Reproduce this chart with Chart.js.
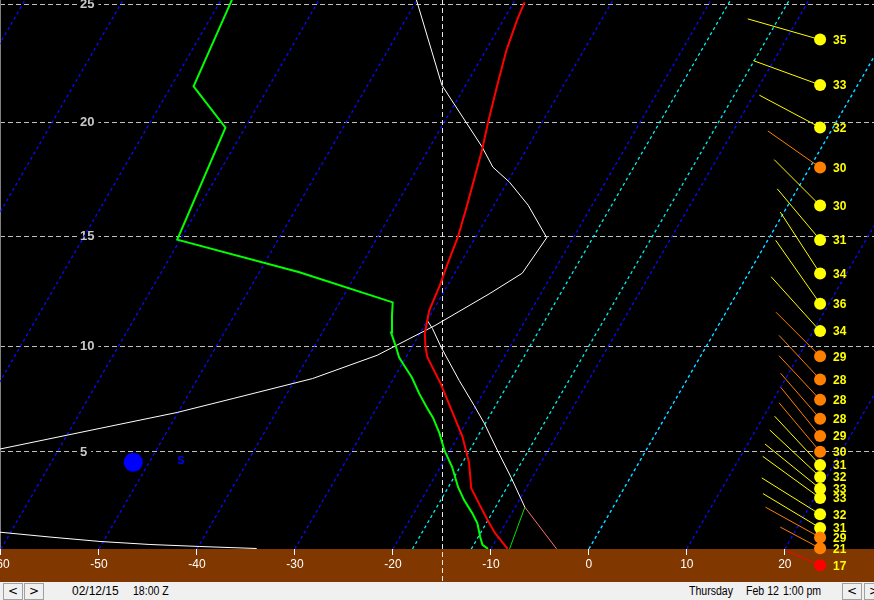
<!DOCTYPE html>
<html>
<head>
<meta charset="utf-8">
<script src="https://cdn.jsdelivr.net/npm/chart.js@4.4.1/dist/chart.umd.min.js"></script>
<style>
  html, body { margin: 0; padding: 0; background: #000; }
  #wrap { position: relative; width: 874px; height: 600px; overflow: hidden; }
  #plot { display: block; }
  #status { position: absolute; left: 0; top: 582px; width: 874px; height: 18px; background: #f0f0f0;
            font: 12px "Liberation Sans", Arial, sans-serif; color: #000; }
  #status span { position: absolute; top: 2px; line-height: 14px; white-space: pre; transform-origin: 0 50%; }
  #status span.n { transform: scaleX(0.88); }
  .btn { position: absolute; top: 1px; width: 18px; height: 15px; border: 1px solid #a0a0a0; background: #f0f0f0;
         text-align: center; line-height: 15px; font: 12px "DejaVu Sans", Arial, sans-serif; color: #000; }
</style>
</head>
<body>
<div id="wrap">
  <canvas id="plot" width="874" height="582"></canvas>
  <div id="status">
    <div class="btn" style="left:3px">&lt;</div>
    <div class="btn" style="left:24px">&gt;</div>
    <span style="left:72px">02/12/15</span>
    <span class="n" style="left:133px">18:00 Z</span>
    <span class="n" style="left:689px">Thursday</span>
    <span class="n" style="left:746px">Feb 12</span>
    <span class="n" style="left:783px">1:00 pm</span>
    <div class="btn" style="left:842px">&lt;</div>
    <div class="btn" style="left:864px">&gt;</div>
  </div>
</div>
<script>
// axis ticks
var xTicks = [-60, -50, -40, -30, -20, -10, 0, 10, 20];
var heightTicks = [5, 10, 15, 20, 25]; // thousands of feet
var refLine = -15;

// skewed isotherms, degC at the bottom of the plot
var isotherms = [-90, -80, -70, -60, -50, -40, -30, -20, -10, 0, 10, 20];
var snowIsotherms = [-18, -12, 0];

// temperature profile (kft, degC)
var tempKft = [0.25, 1.03, 1.57, 2.40, 3.24, 4.46, 5.71, 7.22, 8.25, 9.48, 9.95, 10.6, 11.65, 12.8, 13.81, 14.95, 16.32, 18.82, 20.0, 21.51, 23.07, 24.33, 25.08];
var tempC   = [-8.3, -10.5, -11.8, -13.7, -15.6, -17.3, -19.5, -22.7, -24.9, -27.8, -28.6, -29.5, -30.4, -30.8, -31.3, -31.8, -32.7, -34.5, -35.5, -36.7, -37.9, -38.6, -38.9];

// dew point profile
var dewKft = [0.25, 0.45, 0.84, 1.52, 2.01, 2.65, 3.29, 4.27, 5.09, 5.90, 6.65, 7.12, 7.78, 8.54, 9.10, 9.48, 9.95, 10.64, 11.42, 12.02, 13.39, 14.86, 19.78, 21.55, 25.17];
var dewC   = [-10.3, -11.1, -11.8, -12.9, -14.0, -15.6, -17.0, -18.8, -20.6, -22.1, -23.7, -24.9, -26.5, -28.2, -29.7, -30.7, -31.6, -33.0, -33.9, -34.6, -45.9, -60.3, -62.0, -67.7, -68.9];

// lifted parcel
var dryKft = [0.25, 2.31];
var dryC   = [-3.3, -9.0];
var mixKft = [0.25, 2.31];
var mixC   = [-8.1, -9.0];
var moistKft = [2.31, 3.78, 5.09, 6.37, 7.22, 8.40, 9.95, 10.82, 11.19];
var moistC   = [-9.0, -12.2, -15.2, -18.1, -20.2, -23.2, -27.0, -29.0, -30.0];

// white trace on the plain (unskewed) axis
var traceKft = [5.05, 5.14, 6.13, 6.89, 7.55, 8.49, 9.58, 10.96, 12.43, 13.35, 14.95, 16.40, 17.41, 18.07, 18.95, 21.60, 25.17];
var traceX   = [-61.1, -60.1, -49.9, -42.0, -36.3, -28.2, -21.6, -15.7, -10.1, -6.8, -4.3, -6.2, -8.1, -9.8, -10.9, -15.0, -17.6];
var lowKft = [1.13, 1.08, 0.84, 0.62, 0.47, 0.37, 0.27];
var lowX   = [-61.1, -60.1, -55.0, -49.9, -44.8, -39.7, -33.9];

// marker
var markKft = [4.5];
var markX = [-46.5];

// winds (kft, knots, direction from)
var windX = 23.6;
var windKft = [23.52, 21.61, 19.79, 18.05, 16.38, 14.85, 13.34, 11.96, 10.70, 9.53, 8.45, 7.49, 6.59, 5.77, 5.01, 4.37, 3.79, 3.22, 2.76, 1.96, 1.29, 0.82, 0.28, -0.57];
var windSpd = [35, 33, 32, 29.7, 30.2, 31, 34, 36, 34, 29, 28, 28, 28, 29, 29.7, 31, 32, 33, 33, 32, 31, 29, 21, 17];
var windDir = [286, 290, 298, 305, 315, 320, 327, 325, 318, 315, 317, 317, 319, 321, 320, 317, 313, 309, 306, 302, 301, 299, 298, 293];

var P_BOT = 1004.3, P_TOP = 373.3, SKEW = 32.8;

function kftToP(k) { return 1013.25 * Math.pow(1 - 6.8756e-6 * k * 1000, 5.2559); }
function skewPt(t, k) { var p = kftToP(k); return { x: t + SKEW * Math.log(P_BOT / p), y: p }; }
function skewLine(kft, temps) { return kft.map(function (k, i) { return skewPt(temps[i], k); }); }
function plainLine(kft, xs) { return kft.map(function (k, i) { return { x: xs[i], y: kftToP(k) }; }); }
function isoLine(t) {
  return [{ x: t, y: P_BOT }, { x: t + SKEW * Math.log(P_BOT / P_TOP), y: P_TOP }];
}
function windColor(s) { return s >= 30 ? '#ffff00' : (s >= 20 ? '#ff8000' : '#ff0000'); }

function lineSet(data, color, width, dash) {
  return { data: data, showLine: true, borderColor: color, borderWidth: width, borderDash: dash || [],
           pointRadius: 0, tension: 0, fill: false };
}

var datasets = [
  { data: plainLine(markKft, markX), pointRadius: 9.5, pointBackgroundColor: '#0000ff', pointBorderWidth: 0, clip: false },
  { data: windKft.map(function (k) { return { x: windX, y: kftToP(k) }; }),
    pointRadius: 6, pointHoverRadius: 30, pointBorderWidth: 0, clip: false,
    pointBackgroundColor: windSpd.map(windColor) },
  { data: windKft.map(function (k) { return { x: windX, y: kftToP(k) }; }),
    pointStyle: 'dash', clip: false, pointBorderWidth: 1,
    pointRadius: windSpd.map(function (s) { return s * 2.15; }),
    pointHoverRadius: windSpd.map(function (s) { return s * 2.15; }),
    pointRotation: windDir.map(function (d) { return d - 90; }),
    pointBorderColor: windSpd.map(windColor) },
  lineSet(skewLine(tempKft, tempC), '#ff0000', 2),
  lineSet(skewLine(dewKft, dewC), '#00ff00', 2),
  lineSet(skewLine(moistKft, moistC), '#ffffff', 1),
  lineSet(skewLine(dryKft, dryC), '#ff7070', 1),
  lineSet(skewLine(mixKft, mixC), '#00e000', 1),
  lineSet(plainLine(traceKft, traceX), '#ffffff', 1),
  lineSet(plainLine(lowKft, lowX), '#ffffff', 1)
];
snowIsotherms.forEach(function (t) { datasets.push(lineSet(isoLine(t), '#00f0f0', 1.3, [3, 3])); });
isotherms.forEach(function (t) { datasets.push(lineSet(isoLine(t), '#0a0aff', 1.3, [3, 3])); });

var framePlugin = {
  id: 'frame',
  beforeDraw: function (chart) {
    var ctx = chart.ctx, a = chart.chartArea;
    ctx.save();
    ctx.fillStyle = '#000';
    ctx.fillRect(0, 0, chart.width, a.bottom);
    ctx.fillStyle = '#803800';
    ctx.fillRect(0, a.bottom, chart.width, chart.height - a.bottom);
    ctx.restore();
  },
  beforeDatasetsDraw: function (chart) {
    var ctx = chart.ctx, a = chart.chartArea;
    var x = Math.round(chart.scales.x.getPixelForValue(refLine)) + 0.5;
    ctx.save();
    ctx.strokeStyle = '#e8e8e8';
    ctx.lineWidth = 1;
    ctx.setLineDash([5, 3]);
    ctx.beginPath();
    ctx.moveTo(x, 0);
    ctx.lineTo(x, chart.height);
    ctx.stroke();
    ctx.fillStyle = '#808080';
    ctx.fillRect(0, 0, 1, a.bottom);
    ctx.restore();
  },
  afterDatasetsDraw: function (chart) {
    var ctx = chart.ctx;
    ctx.save();
    ctx.textBaseline = 'middle';
    ctx.textAlign = 'left';
    ctx.font = 'bold 12px "Liberation Sans", Arial, sans-serif';
    ctx.fillStyle = '#ffff00';
    chart.getDatasetMeta(1).data.forEach(function (pt, i) {
      ctx.fillText(String(Math.round(windSpd[i])), pt.x + 13, pt.y + 1);
    });
    var m = chart.getDatasetMeta(0).data[0];
    ctx.fillStyle = '#0000ff';
    ctx.font = 'bold 11px "Liberation Sans", Arial, sans-serif';
    ctx.fillText('S', m.x + 44, m.y - 1);
    ctx.restore();
  }
};

new Chart(document.getElementById('plot'), {
  type: 'scatter',
  data: { datasets: datasets },
  plugins: [framePlugin],
  options: {
    responsive: false,
    animation: false,
    events: [],
    layout: { padding: 0, autoPadding: false },
    plugins: { legend: { display: false }, tooltip: { enabled: false } },
    scales: {
      x: {
        type: 'linear', position: 'bottom', min: -60.1, max: 29.1,
        afterBuildTicks: function (s) { s.ticks = xTicks.map(function (v) { return { value: v }; }); },
        afterFit: function (s) { s.height = 33; s.paddingLeft = 0; s.paddingRight = 0; },
        grid: { drawOnChartArea: false, drawTicks: true, tickLength: 6, tickColor: '#ffffff', color: '#ffffff' },
        border: { display: false },
        ticks: { color: '#ffffff', font: { size: 12, family: '"Liberation Sans", Arial, sans-serif' }, padding: 2,
                 maxRotation: 0, autoSkip: false, callback: function (v) { return String(v); } }
      },
      y: {
        type: 'logarithmic', position: 'left', reverse: true, min: P_TOP, max: P_BOT,
        afterBuildTicks: function (s) { s.ticks = heightTicks.map(function (k) { return { value: kftToP(k) }; }); },
        afterFit: function (s) { s.width = 0; s.paddingTop = 0; s.paddingBottom = 0; },
        grid: { color: '#c0c0c0', drawTicks: false, lineWidth: 1 },
        border: { display: false, dash: [5, 3] },
        ticks: { mirror: true, padding: 80, color: '#c8c8c8', autoSkip: false,
                 font: { size: 13, weight: 'bold', family: '"Liberation Sans", Arial, sans-serif' },
                 showLabelBackdrop: true, backdropColor: '#000000',
                 backdropPadding: { top: 0, bottom: 0, left: 3, right: 4 },
                 callback: function (v, i) { return String(heightTicks[i]); } }
      }
    }
  }
});
</script>
</body>
</html>
